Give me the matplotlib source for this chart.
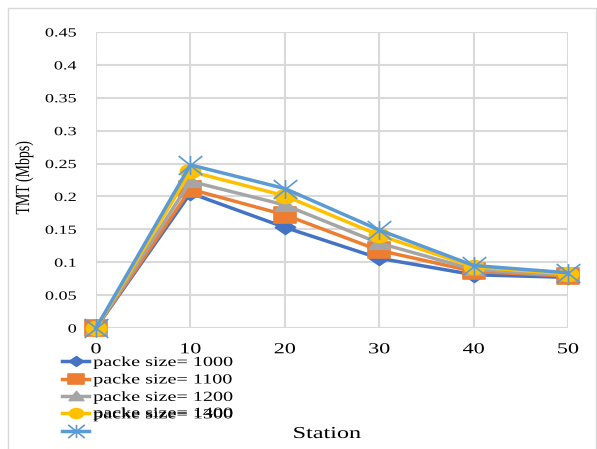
import matplotlib
matplotlib.use("Agg")
from matplotlib import pyplot as plt
from matplotlib.patches import Rectangle
from matplotlib.path import Path
from matplotlib.transforms import Affine2D
from matplotlib.patheffects import AbstractPathEffect

# data
stations = [0, 10, 20, 30, 40, 50]
tmt_1000 = [0, 0.205, 0.153, 0.106, 0.081, 0.077]
tmt_1100 = [0, 0.211, 0.172, 0.118, 0.086, 0.079]
tmt_1200 = [0, 0.223, 0.187, 0.129, 0.089, 0.080]
tmt_1300 = [0, 0.238, 0.201, 0.141, 0.093, 0.082]
tmt_1400 = [0, 0.248, 0.212, 0.149, 0.095, 0.084]
labels = ["packe size= 1000", "packe size= 1100", "packe size= 1200", "packe size= 1300", ""]
extra_label = "packe size= 1400"
yticks = [0, 0.05, 0.1, 0.15, 0.2, 0.25, 0.3, 0.35, 0.4, 0.45]
ytick_labels = ["0", "0.05", "0.1", "0.15", "0.2", "0.25", "0.3", "0.35", "0.4", "0.45"]

plt.rcParams['font.family'] = ['Liberation Serif', 'DejaVu Serif']

SX = 1.45  # the reference is stretched sideways


class HStretch(AbstractPathEffect):
    """stretch a text path horizontally around one of its bbox edges"""
    def __init__(self, sx=SX, anchor='center'):
        super().__init__()
        self.sx = sx
        self.anchor = anchor

    def draw_path(self, renderer, gc, tpath, affine, rgbFace=None):
        bb = tpath.get_extents(affine)
        x0 = {'left': bb.x0, 'right': bb.x1}.get(self.anchor, (bb.x0 + bb.x1) / 2)
        a = affine + Affine2D().translate(-x0, 0).scale(self.sx, 1).translate(x0, 0)
        renderer.draw_path(gc, tpath, a, rgbFace)


def stretch(txt, anchor='center'):
    txt.set_path_effects([HStretch(anchor=anchor)])


# wide markers, to follow the stretch
m_diamond = Path([(-SX, 0), (0, 1), (SX, 0), (0, -1), (-SX, 0)], closed=True)
m_square = Path([(-SX, -1), (SX, -1), (SX, 1), (-SX, 1), (-SX, -1)], closed=True)
m_tri = Path([(-SX, -0.8), (SX, -0.8), (0, 1), (-SX, -0.8)], closed=True)
m_circle = Path.unit_circle().transformed(Affine2D().scale(SX, 1))
m_star = Path([(-1.25, -1), (1.25, 1), (-1.25, 1), (1.25, -1), (0, -1), (0, 1)],
              [Path.MOVETO, Path.LINETO] * 3)

W, H = 597, 449
fig = plt.figure(figsize=(W / 100, H / 100), dpi=100)
fig.patches.append(Rectangle((7.5 / W, -0.01), (596 - 7.5) / W, 1 - 8 / H + 0.01,
                             transform=fig.transFigure, fill=False,
                             edgecolor='#d9d9d9', lw=1))

ax = fig.add_axes([96 / W, 1 - 328 / H, 472 / W, 296 / H])
series = [
    (tmt_1000, '#4472C4', m_diamond, 14.5),
    (tmt_1100, '#ED7D31', m_square, 16),
    (tmt_1200, '#A5A5A5', m_tri, 15),
    (tmt_1300, '#FFC000', m_circle, 14.5),
    (tmt_1400, '#5B9BD5', m_star, 17),
]
handles = []
for (vals, col, mk, ms), lab in zip(series, labels):
    face = 'none' if mk is m_star else col
    h, = ax.plot(stations, vals, color=col, marker=mk, markersize=ms, lw=2.5,
                 markerfacecolor=face, markeredgecolor=col, markeredgewidth=1.2,
                 label=lab, clip_on=False, zorder=3)
    handles.append(h)

ax.set_xlim(0, 50)
ax.set_ylim(0, 0.45)
ax.set_xticks(stations)
ax.set_yticks(yticks)
ax.set_yticklabels(ytick_labels)
ax.grid(True, color='#d9d9d9', lw=1.5)
for s in ax.spines.values():
    s.set_visible(False)
ax.tick_params(length=0)
ax.tick_params(axis='x', labelsize=11, pad=11)
ax.tick_params(axis='y', labelsize=9, pad=14)
for t in ax.get_xticklabels():
    stretch(t)
for t in ax.get_yticklabels():
    stretch(t, 'right')

ylab = fig.text(24 / W, 1 - 178 / H, "TMT (Mbps)", fontsize=10, rotation=90,
                ha='center', va='center')
stretch(ylab)
xlab = fig.text(327 / W, 1 - 434 / H, "Station", fontsize=12, ha='center', va='center')
stretch(xlab)

leg = fig.legend(handles=handles, labels=labels, loc='upper left',
                 bbox_to_anchor=(62 / W, 1 - 356 / H), frameon=False, fontsize=10,
                 handlelength=1.95, labelspacing=0.32, handletextpad=0.3,
                 borderpad=0, borderaxespad=0, markerscale=0.7)
for t in leg.get_texts():
    stretch(t, 'left')

# the 1400 label sits almost on top of the 1300 one, as in the original
fig.canvas.draw()
bb = leg.get_texts()[3].get_window_extent()
t1400 = fig.text(bb.x0, bb.y0 + 1.5, extra_label, fontsize=10, va='baseline', ha='left',
                 transform=None)
t1400.set_verticalalignment('bottom')
stretch(t1400, 'left')

fig.savefig("out.png", dpi=100)
